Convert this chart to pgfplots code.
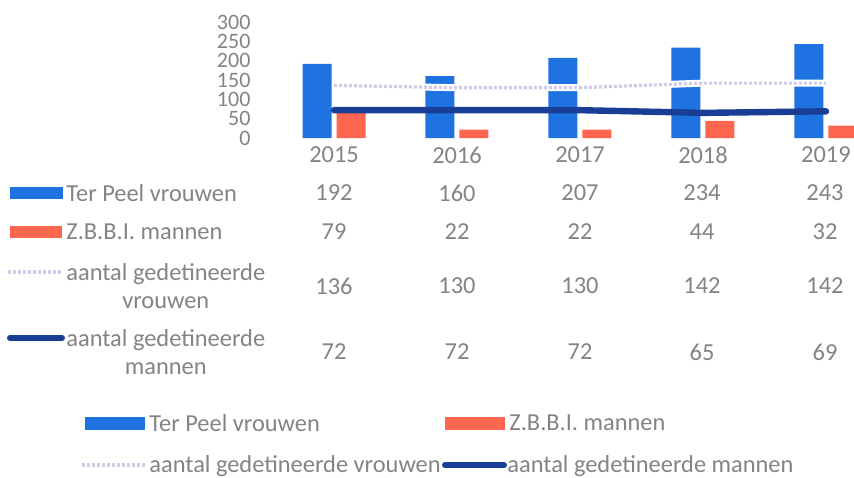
\documentclass[border=0pt]{standalone}
\usepackage{fontspec}
\setmainfont{Carlito}
\usepackage{pgfplots}
\pgfplotsset{compat=1.18}
\definecolor{barblue}{RGB}{30,115,225}
\definecolor{barred}{RGB}{255,102,80}
\definecolor{darkline}{RGB}{25,62,150}
\definecolor{lightline}{RGB}{205,205,232}
\definecolor{txt}{RGB}{132,132,132}
\begin{document}
\begin{tikzpicture}[x=0.5pt,y=-0.5pt,every node/.style={text=txt,font=\fontsize{12.2}{14}\selectfont}]
\path[use as bounding box,fill=white] (0,0) rectangle (854,477);
\coordinate (A) at (272.5,138);
\begin{axis}[
  at={(A)}, anchor=south west,
  scale only axis, width=290.75pt, height=58pt,
  xmin=-0.5, xmax=4.228, ymin=0, ymax=300,
  axis line style={draw=none},
  major tick length=0pt,
  xtick={0,1,2,3,4},
  xticklabels={2015,2016,2017,2018,2019},
  ytick={0,50,100,150,200,250,300},
  tick label style={text=txt,font=\fontsize{12.2}{13}\selectfont},
  yticklabel style={xshift=-7.5pt,font=\fontsize{11}{12}\selectfont},
  xticklabel style={yshift=-1pt},
  /pgf/number format/assume math mode=true,
  clip=true,
]
\addplot[ybar, bar width=14.5pt, bar shift=-8.5pt, fill=barblue, draw=none]
  coordinates {(0,192) (1,160) (2,207) (3,234) (4,243)};
\addplot[ybar, bar width=14.5pt, bar shift=8.5pt, fill=barred, draw=none]
  coordinates {(0,79) (1,22) (2,22) (3,44) (4,32)};
\addplot[white, line width=3.5pt]
  coordinates {(0,136) (1,130) (2,130) (3,142) (4,142)};
\addplot[lightline, line width=1.6pt, dash pattern=on 1.5pt off 1pt]
  coordinates {(0,136) (1,130) (2,130) (3,142) (4,142)};
\addplot[darkline, line width=3.2pt, line cap=round]
  coordinates {(0,72) (1,72) (2,72) (3,65) (4,69)};
\end{axis}
% data table keys
\fill[barblue] (10,187) rectangle (63,199);
\fill[barred] (10,226) rectangle (62,238);
\draw[lightline, line width=1.6pt, dash pattern=on 1.5pt off 1pt] (8,272) -- (63,272);
\draw[darkline, line width=3pt, line cap=round] (10,338) -- (62,338);
% data table labels
\node[anchor=west,inner sep=0pt] at (66,193) {Ter Peel vrouwen};
\node[anchor=west,inner sep=0pt] at (66,232) {Z.B.B.I. mannen};
\node[anchor=west,inner sep=0pt,align=center] at (66,286) {aantal gedetineerde\\vrouwen};
\node[anchor=west,inner sep=0pt,align=center] at (66,352) {aantal gedetineerde\\mannen};
% data table values
\foreach \x/\a/\b/\c/\d in {334/192/79/136/72, 457/160/22/130/72, 580/207/22/130/72, 702/234/44/142/65, 825/243/32/142/69}{
  \node at (\x,193) {\a};
  \node at (\x,232) {\b};
  \node at (\x,286) {\c};
  \node at (\x,352) {\d};
}
% bottom legend
\fill[barblue] (85,417) rectangle (145,430);
\node[anchor=west,inner sep=0pt] at (149,423) {Ter Peel vrouwen};
\fill[barred] (445,417) rectangle (505,430);
\node[anchor=west,inner sep=0pt] at (509,423) {Z.B.B.I. mannen};
\draw[lightline, line width=1.6pt, dash pattern=on 1.5pt off 1pt] (82,465) -- (145,465);
\node[anchor=west,inner sep=0pt] at (149,466) {aantal gedetineerde vrouwen};
\draw[darkline, line width=3pt, line cap=round] (445,465) -- (504,465);
\node[anchor=west,inner sep=0pt] at (507,466) {aantal gedetineerde mannen};
\end{tikzpicture}
\end{document}
